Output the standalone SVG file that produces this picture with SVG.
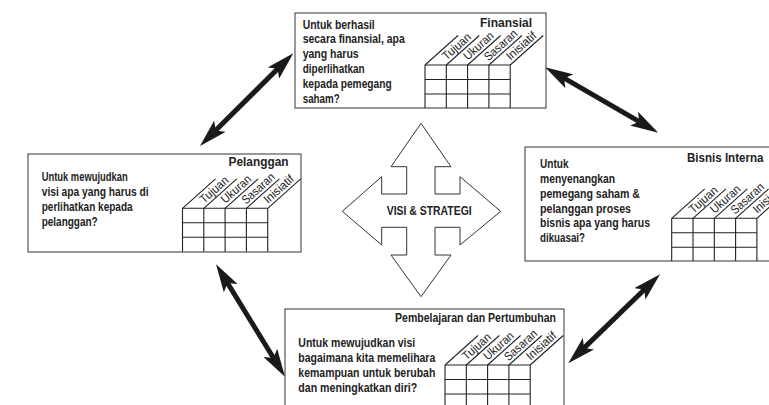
<svg xmlns="http://www.w3.org/2000/svg" width="769" height="405" viewBox="0 0 769 405">
<defs>
<style>
.box{fill:#fff;stroke:#333;stroke-width:1}
.grid{fill:none;stroke:#222;stroke-width:1.1}
.t{font-family:"Liberation Sans",Arial,sans-serif;font-weight:bold;font-size:12px;fill:#222}
.ti{font-family:"Liberation Sans",Arial,sans-serif;font-weight:bold;font-size:13px;fill:#222}
.h{font-family:"Liberation Sans",Arial,sans-serif;font-size:12px;fill:#222}
.conn{stroke:#1a1a1a;stroke-width:5;fill:none;marker-start:url(#ah);marker-end:url(#ah)}
</style>
<marker id="ah" markerUnits="userSpaceOnUse" viewBox="0 0 28 16" markerWidth="28" markerHeight="16" refX="16" refY="8" orient="auto-start-reverse">
<path d="M0,0 L28,8 L0,16 L6,8 z" fill="#1a1a1a"/>
</marker>
<g id="hdr">
<path class="grid" d="M0,0 l33,-29.5 M21.3,0 l33,-29.5 M42.6,0 l33,-29.5 M63.9,0 l33,-29.5 M85.2,0 l33,-29.5"/>
<text class="h" transform="translate(21.3,0) rotate(-41.7)" x="3" y="-3" textLength="34" lengthAdjust="spacingAndGlyphs">Tujuan</text>
<text class="h" transform="translate(42.6,0) rotate(-41.7)" x="3" y="-3" textLength="36" lengthAdjust="spacingAndGlyphs">Ukuran</text>
<text class="h" transform="translate(63.9,0) rotate(-41.7)" x="2" y="-3" textLength="40" lengthAdjust="spacingAndGlyphs">Sasaran</text>
<text class="h" transform="translate(85.2,0) rotate(-41.7)" x="3" y="-3" textLength="36" lengthAdjust="spacingAndGlyphs">Inisiatif</text>
<path class="grid" d="M0,0 H85.2 M0,14.5 H85.2 M0,29 H85.2 M0,0 V43.5 M21.3,0 V43.5 M42.6,0 V43.5 M63.9,0 V43.5 M85.2,0 V43.5"/>
</g>
</defs>
<rect width="769" height="405" fill="#fff"/>

<g id="connectors">
<line class="conn" x1="208.5" y1="137.5" x2="284.8" y2="61.8"/>
<line class="conn" x1="555.5" y1="73.2" x2="647.9" y2="126.7"/>
<line class="conn" x1="222.3" y1="274.5" x2="278.7" y2="366.5"/>
<line class="conn" x1="576.9" y1="354.9" x2="651.4" y2="282.7"/>
</g>

<g id="center">
<polygon class="box" points="421,123.3 451,166.7 435,166.7 435,194 460,194 460,176.7 500.7,211.3 460,245 460,227.3 435,227.3 435,255 451,255 421,296.7 391,255 406.7,255 406.7,227.3 381.7,227.3 381.7,245 342.3,211.3 381.7,176.7 381.7,194 406.7,194 406.7,166.7 391,166.7"/>
<text class="t" x="386.7" y="214.5" font-size="11.5" textLength="85" lengthAdjust="spacingAndGlyphs">VISI &amp; STRATEGI</text>
</g>

<g id="finansial">
<rect class="box" x="295" y="13" width="251" height="95"/>
<text class="ti" x="480" y="26.5" textLength="52" lengthAdjust="spacingAndGlyphs">Finansial</text>
<text class="t" x="302.7" y="28.5" textLength="72" lengthAdjust="spacingAndGlyphs">Untuk berhasil</text>
<text class="t" x="302.7" y="43.3" textLength="102" lengthAdjust="spacingAndGlyphs">secara finansial, apa</text>
<text class="t" x="302.7" y="58.1" textLength="56" lengthAdjust="spacingAndGlyphs">yang harus</text>
<text class="t" x="302.7" y="72.9" textLength="62" lengthAdjust="spacingAndGlyphs">diperlihatkan</text>
<text class="t" x="302.7" y="87.7" textLength="89" lengthAdjust="spacingAndGlyphs">kepada pemegang</text>
<text class="t" x="302.7" y="102.5" textLength="37" lengthAdjust="spacingAndGlyphs">saham?</text>
<svg x="295" y="13" width="251" height="95" overflow="hidden"><use href="#hdr" x="130" y="52"/></svg>
</g>

<g id="pelanggan">
<rect class="box" x="28" y="154" width="273" height="98"/>
<text class="ti" x="228.5" y="166" textLength="60" lengthAdjust="spacingAndGlyphs">Pelanggan</text>
<text class="t" x="41.7" y="181" textLength="86" lengthAdjust="spacingAndGlyphs">Untuk mewujudkan</text>
<text class="t" x="41.7" y="196" textLength="107" lengthAdjust="spacingAndGlyphs">visi apa yang harus di</text>
<text class="t" x="41.7" y="211" textLength="91" lengthAdjust="spacingAndGlyphs">perlihatkan kepada</text>
<text class="t" x="41.7" y="226" textLength="56" lengthAdjust="spacingAndGlyphs">pelanggan?</text>
<svg x="28" y="154" width="273" height="98" overflow="hidden"><use href="#hdr" x="154.5" y="54.3"/></svg>
</g>

<g id="bisnis-internal">
<rect class="box" x="525" y="147" width="260" height="114"/>
<text class="ti" transform="translate(687,162) scale(0.89,1)">Bisnis Interna</text>
<text class="t" x="540" y="168" textLength="28.5" lengthAdjust="spacingAndGlyphs">Untuk</text>
<text class="t" x="540" y="183" textLength="75" lengthAdjust="spacingAndGlyphs">menyenangkan</text>
<text class="t" x="540" y="197.5" textLength="100" lengthAdjust="spacingAndGlyphs">pemegang saham &amp;</text>
<text class="t" x="540" y="212.5" textLength="91" lengthAdjust="spacingAndGlyphs">pelanggan proses</text>
<text class="t" x="540" y="227" textLength="110" lengthAdjust="spacingAndGlyphs">bisnis apa yang harus</text>
<text class="t" x="540" y="241.5" textLength="45" lengthAdjust="spacingAndGlyphs">dikuasai?</text>
<svg x="525" y="147" width="260" height="114" overflow="hidden"><use href="#hdr" x="146.7" y="71.3"/></svg>
</g>

<g id="pembelajaran">
<rect class="box" x="285" y="309" width="279" height="110"/>
<text class="ti" x="395" y="322" font-size="11" textLength="161" lengthAdjust="spacingAndGlyphs">Pembelajaran dan Pertumbuhan</text>
<text class="t" x="298.3" y="347" textLength="117" lengthAdjust="spacingAndGlyphs">Untuk mewujudkan visi</text>
<text class="t" x="298.3" y="362" textLength="137" lengthAdjust="spacingAndGlyphs">bagaimana kita memelihara</text>
<text class="t" x="298.3" y="377" textLength="137" lengthAdjust="spacingAndGlyphs">kemampuan untuk berubah</text>
<text class="t" x="298.3" y="392" textLength="119" lengthAdjust="spacingAndGlyphs">dan meningkatkan diri?</text>
<svg x="285" y="309" width="279" height="110" overflow="hidden"><use href="#hdr" x="160" y="56"/></svg>
</g>
</svg>
